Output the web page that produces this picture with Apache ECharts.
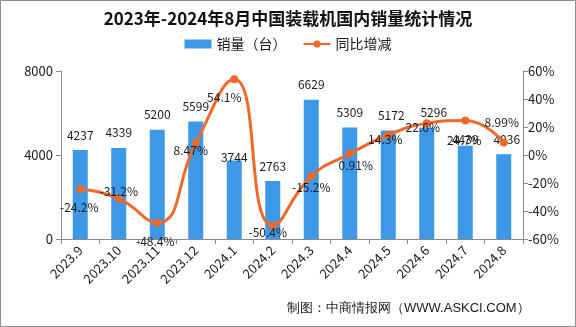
<!DOCTYPE html>
<html>
<head>
<meta charset="utf-8">
<script src="https://cdn.jsdelivr.net/npm/echarts@6/dist/echarts.min.js"></script>
<style>
html,body{margin:0;padding:0;background:#fff;}
#c{width:576px;height:327px;}
</style>
</head>
<body>
<div id="c"></div>
<script>
var categories = ['2023.9','2023.10','2023.11','2023.12','2024.1','2024.2','2024.3','2024.4','2024.5','2024.6','2024.7','2024.8'];
var salesValues = [4237,4339,5200,5599,3744,2763,6629,5309,5172,5296,4439,4036];
var yoyValues = [-24.2,-31.2,-48.4,8.47,54.1,-50.4,-15.2,0.91,14.3,22.6,24.7,8.99];
var yoyLabels = ['-24.2%','-31.2%','-48.4%','8.47%','54.1%','-50.4%','-15.2%','0.91%','14.3%','22.6%','24.7%','8.99%'];
var leftTicks = [0,4000,8000];
var rightTicks = [-60,-40,-20,0,20,40,60];

// label offsets (layout only)
var barLabelOffsets = [[0,0],[0,0],[0,0],[0,0],[0,12],[0,0],[0,0],[0,0],[3,0],[7,0],[0,9],[3,0]];
var lineLabelOffsets = [[-1,19],[0,-7],[-2,19],[-5,7],[-10,18],[-5,7],[0,11],[6,12],[-3,4],[-4,4],[-1,20],[-2,-20]];

var FONT = '"Noto Sans CJK SC", "Noto Sans", sans-serif';
var BLUE = '#3D98E8';
var ORANGE = '#EE6A2A';
var AXIS = '#8a8a8a';
var TXT = '#1a1a1a';

var chart = echarts.init(document.getElementById('c'), null, {renderer:'canvas'});

var barData = salesValues.map(function(v,i){
  return {value:v, label:{offset:barLabelOffsets[i]}};
});
var lineData = yoyValues.map(function(v,i){
  return {value:v, label:{offset:lineLabelOffsets[i], formatter: yoyLabels[i]}};
});

chart.setOption({
  animation:false,
  textStyle:{fontFamily:FONT},
  title:{
    text:'2023年-2024年8月中国装载机国内销量统计情况',
    left:'center', top:10, padding:0,
    textStyle:{fontFamily:FONT, fontSize:17, fontWeight:'bold', color:'#111'}
  },
  legend:{
    top:37, left:'center', itemGap:16, itemWidth:27, itemHeight:9, padding:0,
    textStyle:{fontFamily:FONT, fontSize:14, color:TXT},
    data:[{name:'销量（台）', icon:'rect'}, {name:'同比增减'}]
  },
  grid:{left:61, right:53, top:71, bottom:88, containLabel:false},
  xAxis:{
    type:'category', data:categories, boundaryGap:true,
    axisLine:{lineStyle:{color:AXIS, width:1}},
    axisTick:{show:true, alignWithLabel:false, length:5, lineStyle:{color:AXIS}},
    axisLabel:{rotate:45, fontSize:13, color:TXT, margin:9, interval:0, fontFamily:FONT}
  },
  yAxis:[{
    type:'value', min:leftTicks[0], max:leftTicks[leftTicks.length-1], interval:leftTicks[1]-leftTicks[0],
    axisLine:{show:true, lineStyle:{color:AXIS}},
    axisTick:{show:true, length:5, lineStyle:{color:AXIS}},
    splitLine:{show:false},
    axisLabel:{fontSize:13, color:TXT, margin:8, fontFamily:FONT, formatter:function(v){return String(v);}}
  },{
    type:'value', min:rightTicks[0], max:rightTicks[rightTicks.length-1], interval:rightTicks[1]-rightTicks[0],
    position:'right',
    axisLine:{show:true, lineStyle:{color:AXIS}},
    axisTick:{show:true, length:5, lineStyle:{color:AXIS}},
    splitLine:{show:false},
    axisLabel:{fontSize:13, color:TXT, margin:5, formatter:function(v){return v + '%';}, fontFamily:FONT}
  }],
  series:[{
    name:'销量（台）', type:'bar', data:barData, barWidth:15, yAxisIndex:0,
    itemStyle:{color:BLUE},
    label:{show:true, position:'top', distance:9, fontSize:12, color:TXT, fontFamily:FONT},
    z:2
  },{
    name:'同比增减', type:'line', data:lineData, yAxisIndex:1, smooth:0.5,
    symbol:'circle', symbolSize:8,
    lineStyle:{color:ORANGE, width:3},
    itemStyle:{color:ORANGE},
    label:{show:true, position:'inside', fontSize:12, color:TXT, fontFamily:FONT},
    z:3
  }],
  graphic:[{
    type:'rect', shape:{x:0.5, y:0.5, width:575, height:326},
    style:{fill:'none', stroke:'#8c8c8c', lineWidth:1}, silent:true, z:-1
  },{
    type:'text', left:287, top:302,
    style:{text:'制图：中商情报网（WWW.ASKCI.COM）', fontSize:13, fill:TXT, font:'13px ' + FONT}
  }]
});
</script>
</body>
</html>
